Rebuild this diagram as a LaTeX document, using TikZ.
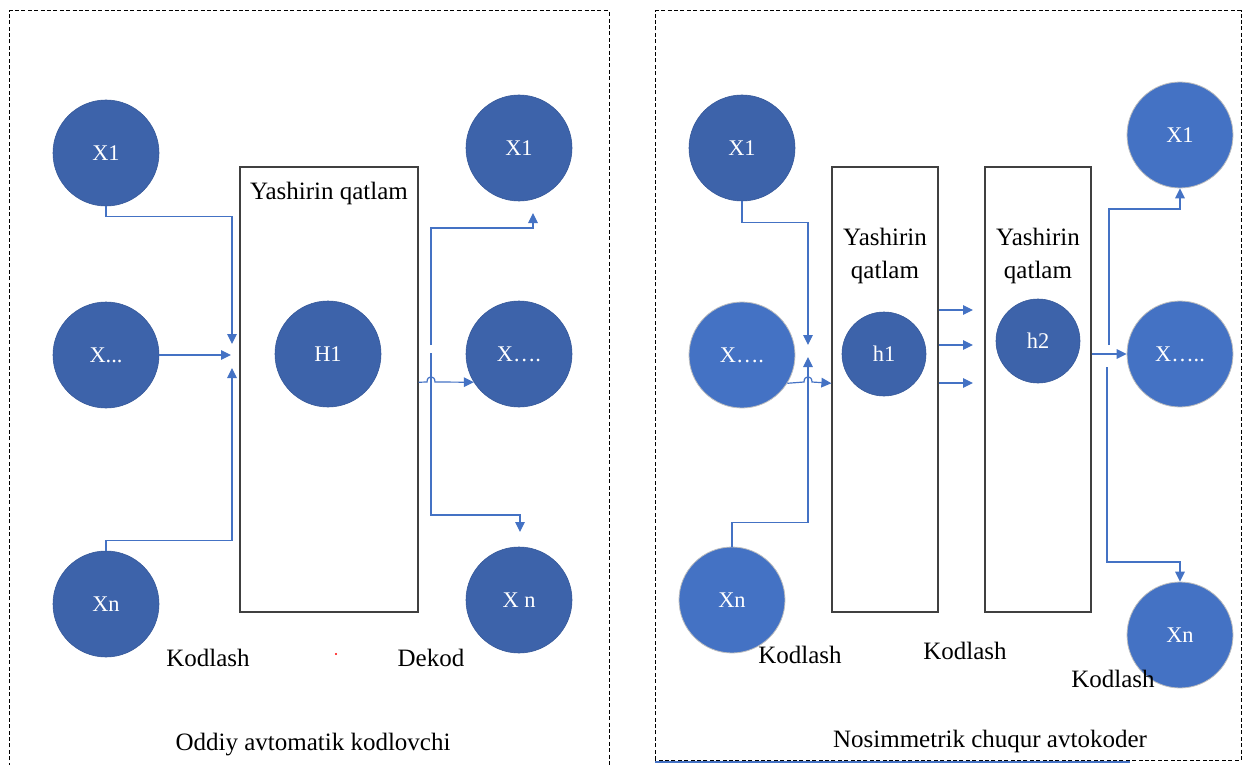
\documentclass[tikz,border=0pt]{standalone}
\usepackage{fontspec}
\setmainfont{Liberation Serif}
\usetikzlibrary{arrows.meta}
\definecolor{dk}{HTML}{3D63AA}
\definecolor{lt}{HTML}{4472C4}
\definecolor{ln}{HTML}{4472C4}
\newcommand{\lblfont}{\fontsize{12.5}{15}\selectfont}
\newcommand{\crcfont}{\fontsize{11.2}{13}\selectfont}
\begin{document}
\begin{tikzpicture}[x=0.5pt,y=-0.5pt,
  dcirc/.style={circle, fill=dk, draw=dk!90!black, line width=0.3pt, minimum size=53pt, inner sep=0pt, text=white, font=\crcfont},
  lcirc/.style={circle, fill=lt, draw=black!25, line width=0.4pt, minimum size=53pt, inner sep=0pt, text=white, font=\crcfont},
  hcirc/.style={dcirc, minimum size=42pt},
  layerbox/.style={draw=black!75, line width=0.6pt, minimum height=222.5pt, inner sep=0pt},
  conn/.style={draw=ln, line width=0.6pt, -{Triangle[length=5pt,width=4.8pt]}},
  lbl/.style={font=\lblfont, text=black, inner sep=0pt},
  frame/.style={draw=black, line width=0.5pt, dash pattern=on 2pt off 1.2pt},
  bump/.style={draw=ln, line width=0.6pt}]
\useasboundingbox (0,0) rectangle (1248,765);
% frames
\draw[frame] (9,773) -- (9,11) -- (609,11) -- (609,773);
\draw[frame] (655,760) -- (655,11) -- (1241,11) -- (1241,760) -- cycle;
\draw[draw=ln, line width=0.7pt] (655,762) -- (1130,762);

% ---------------- left diagram ----------------
\node[layerbox, minimum width=89pt] (B) at (329,389.5) {};
\node[lbl] (yq) at (329,193) {Yashirin qatlam};
\node[dcirc] (h1) at (328,354) {H1};
\node[dcirc] (x1) at (106,153) {X1};
\node[dcirc] (xm) at (106,355) {X...};
\node[dcirc] (xn) at (106,604) {Xn};
\node[dcirc] (o1) at (519,148) {X1};
\node[dcirc] (o2) at (519,354) {X….};
\node[dcirc] (o3) at (519,600) {X n};

\coordinate (t1) at (232,344);
\coordinate (t2) at (231,355);
\coordinate (t3) at (232,368);
\draw[conn] (x1.south) -- ++(0,10) -| (t1);
\draw[conn] (xm.east) -- (t2);
\draw[conn] (xn.north) -- ++(0,-10) -| (t3);

\coordinate (s1) at (431,345);
\coordinate (s2) at (431,353);
\coordinate (e1) at (533,213);
\coordinate (e3) at (520,532);
\draw[conn] (s1) -- (431,228) -| (e1);
\draw[conn] (s2) -- (431,515) -| (e3);
\draw[conn] (B.east |- o2.212) -- (427,382) .. controls (427,375) and (435,375) .. (435,382) -- (o2.212);

\node[lbl] (k1) at (208,658) {Kodlash};
\node[lbl] (d1) at (431,658) {Dekod};
\fill[red] (336,654) circle (0.6pt);
\node[lbl] (cap1) at (313,745) {Oddiy avtomatik kodlovchi};

% ---------------- right diagram ----------------
\node[layerbox, minimum width=53pt] (C1) at (885,389.5) {};
\node[layerbox, minimum width=53pt] (C2) at (1038,389.5) {};
\node[lbl, align=center] (yq1) at (885,256) {Yashirin\\[1.5pt]qatlam};
\node[lbl, align=center] (yq2) at (1038,256) {Yashirin\\[1.5pt]qatlam};
\node[hcirc] (hh1) at (884,354) {h1};
\node[hcirc] (hh2) at (1038,341) {h2};
\node[dcirc] (r1) at (742,148) {X1};
\node[lcirc] (rm) at (742,355) {X….};
\node[lcirc] (rn) at (732,600) {Xn};
\node[lcirc] (q1) at (1180,135) {X1};
\node[lcirc] (q2) at (1180,354) {X…..};
\node[lcirc] (q3) at (1180,635) {Xn};

\coordinate (u1) at (808,345);
\coordinate (u2) at (808,357);
\draw[conn] (r1.south) -- ++(0,21) -| (u1);
\draw[conn] (rn.north) -- ++(0,-24) -| (u2);
\draw[conn] (rm.-32) -- (804,382) .. controls (804,375) and (812,375) .. (812,382) -- (C1.west |- rm.-32);

\coordinate (m1) at (973,310);
\coordinate (m2) at (973,345);
\coordinate (m3) at (973,383);
\draw[conn] (C1.east |- m1) -- (m1);
\draw[conn] (C1.east |- m2) -- (m2);
\draw[conn] (C1.east |- m3) -- (m3);

\coordinate (v1) at (1109,345);
\coordinate (v2) at (1107,367);
\draw[conn] (C2.east |- q2.west) -- (q2.west);
\draw[conn] (v1) -- (1109,209) -| (q1.south);
\draw[conn] (v2) -- (1107,562) -| (q3.north);

\node[lbl] (k2) at (800,655) {Kodlash};
\node[lbl] (k3) at (965,651) {Kodlash};
\node[lbl] (k4) at (1113,679) {Kodlash};
\node[lbl] (cap2) at (990,741) {Nosimmetrik chuqur avtokoder};
\end{tikzpicture}
\end{document}
